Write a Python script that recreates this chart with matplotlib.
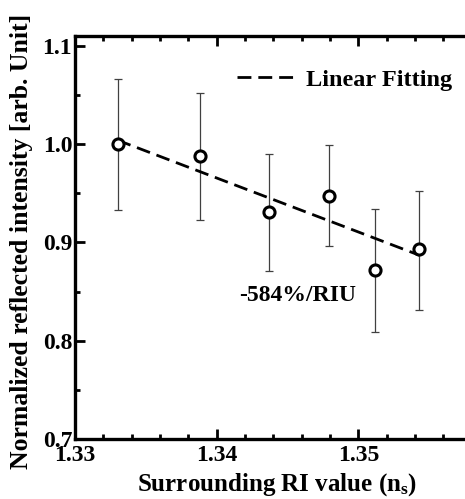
import matplotlib
matplotlib.use("Agg")
import matplotlib.pyplot as plt
from matplotlib.ticker import MultipleLocator

ri = [1.3330, 1.3388, 1.3437, 1.3479, 1.3512, 1.3543]
intensity = [1.000, 0.988, 0.931, 0.947, 0.872, 0.893]
err_upper = [1.066, 1.052, 0.990, 0.999, 0.934, 0.952]
err_lower = [0.933, 0.923, 0.871, 0.896, 0.809, 0.831]
fit_x = [1.3330, 1.3543]
fit_y = [1.0040, 0.8870]
xticks = [1.33, 1.34, 1.35]
yticks = [0.7, 0.8, 0.9, 1.0, 1.1]

plt.rcParams['font.family'] = ['Liberation Serif', 'DejaVu Serif']
plt.rcParams['font.weight'] = 'bold'
plt.rcParams['mathtext.fontset'] = 'custom'
plt.rcParams['mathtext.rm'] = 'Liberation Serif:bold'
plt.rcParams['mathtext.it'] = 'Liberation Serif:bold'

fig = plt.figure(figsize=(4.65, 4.99), dpi=100)
ax = fig.add_axes([75/465, 1-439/499, 425/465, (439-36)/499])

yerr = [[v - l for v, l in zip(intensity, err_lower)],
        [u - v for v, u in zip(intensity, err_upper)]]
ax.errorbar(ri, intensity, yerr=yerr, fmt='none', ecolor='#404040',
            elinewidth=0.9, capsize=3, capthick=0.9, zorder=2)
ax.plot(ri, intensity, 'o', mfc='white', mec='black', ms=8, mew=2.2,
        linestyle='none', zorder=4)
ax.plot(fit_x, fit_y, color='black', lw=2, dashes=(5, 2.5), zorder=3,
        label='Linear Fitting')

ax.set_xlim(1.33, 1.36)
ax.set_ylim(0.7, 1.11)
ax.set_xticks(xticks)
ax.set_yticks(yticks)
ax.set_xticklabels(['1.33', '1.34', '1.35'])
ax.set_yticklabels(['0.7', '0.8', '0.9', '1.0', '1.1'])
ax.xaxis.set_minor_locator(MultipleLocator(0.002))
ax.yaxis.set_minor_locator(MultipleLocator(0.05))
ax.tick_params(which='both', direction='in', top=True, right=True,
               labelsize=17, width=2)
ax.tick_params(which='major', length=7)
ax.tick_params(axis='x', which='major', pad=4)
ax.tick_params(axis='y', which='major', pad=2)
ax.tick_params(which='minor', length=3.5)
for s in ax.spines.values():
    s.set_linewidth(2.4)

ax.text(1.3457, 0.846, '-584%/RIU', ha='center', va='center', fontsize=17,
        fontweight='bold')

leg = ax.legend(loc='center right', bbox_to_anchor=(452/465, 1-80/499),
                bbox_transform=fig.transFigure, frameon=False, fontsize=17.5,
                handlelength=2.4, handletextpad=0.45, borderaxespad=0,
                borderpad=0)

fig.text(277/465, 1-485/499, r'Surrounding RI value (n$_\mathrm{s}$)',
         ha='center', va='center', fontsize=18, fontweight='bold')
fig.text(22/465, 1-241/499, 'Normalized reflected intensity [arb. Unit]',
         ha='center', va='center', rotation=90, fontsize=18.5, fontweight='bold')

fig.savefig('out.png', dpi=100)
